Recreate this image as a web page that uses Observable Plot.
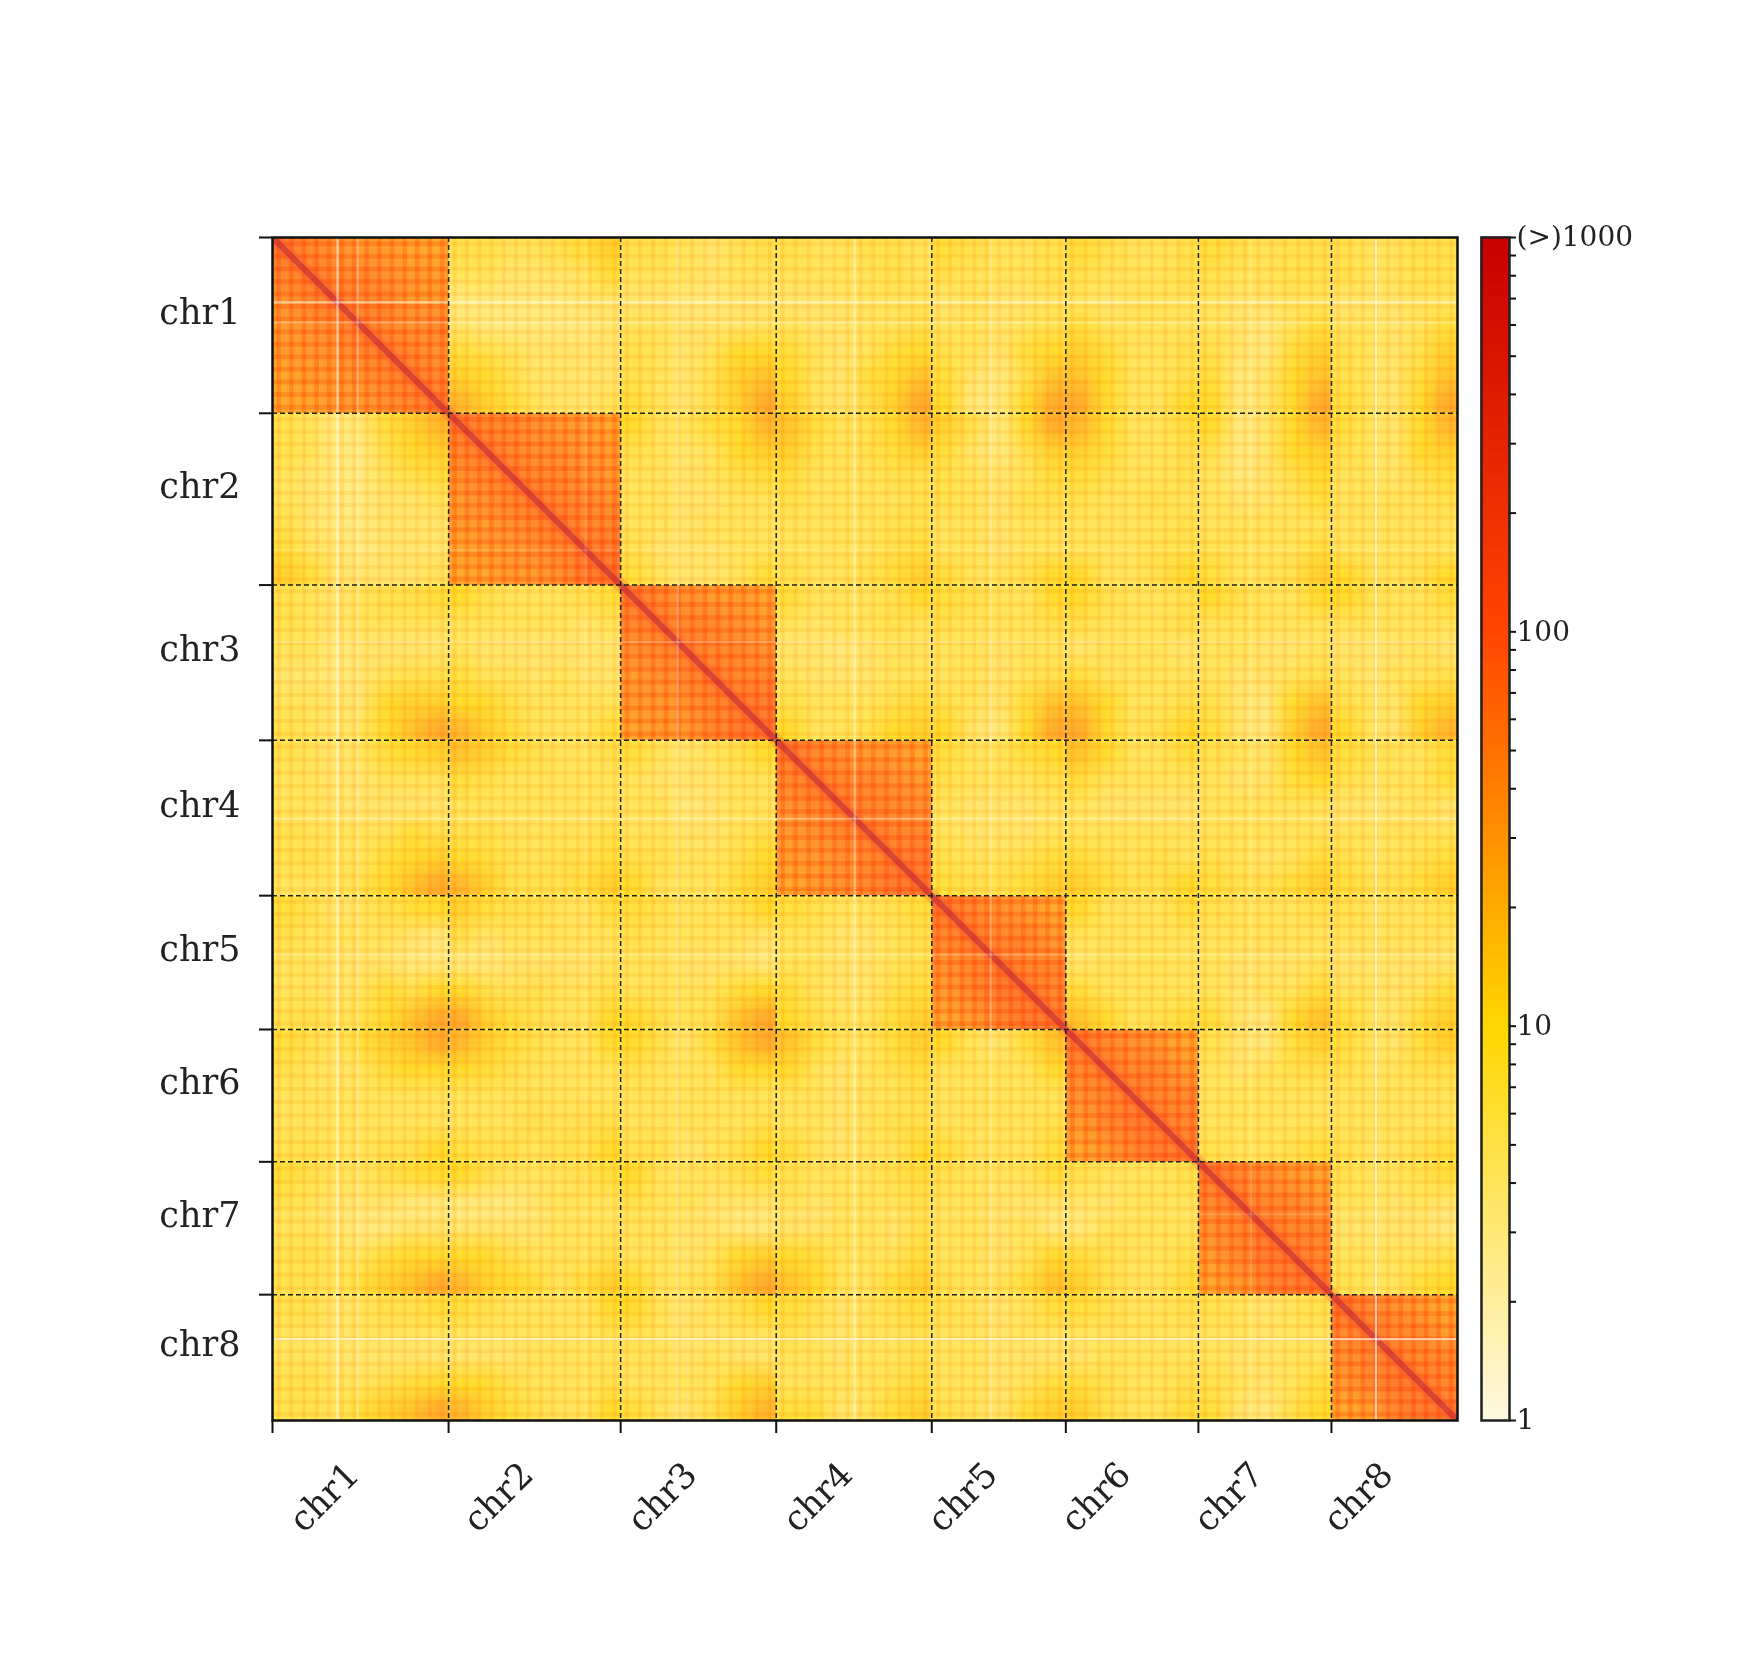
<!DOCTYPE html>
<html>
<head>
<meta charset="utf-8">
<script src="https://cdn.jsdelivr.net/npm/d3@7"></script>
<script src="https://cdn.jsdelivr.net/npm/@observablehq/plot@0.6"></script>
<style>
html,body{margin:0;padding:0;background:#fff;}
#wrap{position:relative;width:1746px;height:1658px;overflow:hidden;}
#wrap svg{position:absolute;left:0;top:0;background:transparent;filter:blur(0.7px);}
</style>
</head>
<body>
<div id="wrap"></div>
<script>
// chromosomes and their lengths along the axes
const chromNames = ["chr1","chr2","chr3","chr4","chr5","chr6","chr7","chr8"];
const chromLengths = [176,172,155.5,155.5,134,132.5,133,126];
const binCounts = [14,14,12,12,11,10,10,10];   // visible contact-map bins per chromosome

// contact level codes -> contacts per bin
const levels = {a:3,b:3.6,c:4.5,d:5.5,e:6.5,f:8.2,g:10,h:12.5,i:16,j:20,k:25,l:28,m:34,n:41,o:50,p:62};

// within-chromosome blocks
const c1c1 = ["ponmmll","opoonmm","nopoomm","mnopono","mmnopon","lmmnopo","llmmnop"];
const c2c2 = ["poonmml","oponnmm","nopoonm","mnopoon","mmnopoo","lmmnopp","llmmnpp"];
const c3c3 = ["ponmml","opoonm","nopoon","mnopoo","mmnopp","lmmopp"];
const c4c4 = ["ponmml","opoonm","nopoon","mnopoo","mmnopp","lmnopp"];
const c5c5 = ["ponml","opoom","nopoo","moppo","lmopp"];
const c6c6 = ["ponml","opoom","nopoo","moppo","lmopp"];
const c7c7 = ["ponml","opoom","nopoo","moppo","lmopp"];
const c8c8 = ["ponml","opoom","nopoo","moppo","lmopp"];

// between-chromosome blocks (upper triangle; the map is symmetric)
const c1c2 = ["eeddefh","ddcccdf","bbbbbcc","cbbbbbc","fedcccc","hgecccc","jhfdccd"];
const c1c3 = ["eedcde","dddcdd","ccbbcc","ddcccd","edcdgg","edcehi","fdcehk"];
const c1c4 = ["eddeed","dddded","cccddd","dccdde","fdcdfg","gdcfgi","hdcehk"];
const c1c5 = ["fedde","eddde","cdccd","ddcde","edcfg","fcbei","gbbgk"];
const c1c6 = ["fedde","eddde","dcddd","fdddd","hfdde","igdde","kgddg"];
const c1c7 = ["fedee","eddee","dccdd","dcbdf","ecbfh","fbcgi","gbcgk"];
const c1c8 = ["eddee","eddee","cccdd","ddcdf","edceh","edcfi","fdcgk"];
const c2c3 = ["gddfgj","edcdgh","ddcdef","ddccdd","ddcddd","ecccdd","fdccdf"];
const c2c4 = ["ifdegj","hedefh","fdddee","edddde","ddddee","ddddef","eddefh"];
const c2c5 = ["hebgk","fcbeh","edcdf","edcee","ddcdd","ddcdd","fddeg"];
const c2c6 = ["jgddf","hfdde","fedde","edded","dddde","dddee","gddeg"];
const c2c7 = ["gbcgj","ebcgh","dbceg","dccdf","ddddd","edddf","fddeh"];
const c2c8 = ["fdcgj","edcgh","ddcef","dddde","ddddd","ddddd","gedeg"];
const c3c4 = ["fdddeg","dcdded","ccbcdd","dcccdd","edddef","gddegh"];
const c3c5 = ["feddg","eddde","ddcdd","ddcde","edcfi","gcbgk"];
const c3c6 = ["gedde","eddde","cdddc","fdddd","igdde","kgdeg"];
const c3c7 = ["geddg","ddddd","ddccd","dccde","ecbgi","fcbhk"];
const c3c8 = ["geddf","ddddd","cccdc","dcdde","edcgh","gdchj"];
const c4c5 = ["fddfg","eddde","dcccd","dcccd","eddef","feefh"];
const c4c6 = ["igddf","fdddd","dcccc","ddddd","feded","hfeeg"];
const c4c7 = ["edcgi","dccfg","ddddd","ddddd","edcdf","feefh"];
const c4c8 = ["feddf","edddf","cccdc","ddddd","eddef","feefh"];
const c5c6 = ["gdddf","ddddd","cdddd","fdddd","igdef"];
const c5c7 = ["eddde","ddddd","dcccd","dcddf","fcbgi"];
const c5c8 = ["eddde","ddddd","ccccc","ddcdf","fdcfh"];
const c6c7 = ["ecbfh","dcdee","ddddd","ddddd","eddef"];
const c6c8 = ["fdcfh","eddee","ddddd","ddddd","eddef"];
const c7c8 = ["eddef","ddcdc","ccccb","dddde","eddfg"];

// low-coverage bins that show as pale lines on both axes, and how pale they are
const paleBins = [65,85,313,405,582,718,978,1103];
const paleStrength = [0.55,0.3,0.15,0.3,0.4,0.25,0.15,0.65];

// colour bar
const barDomain = [1,10,100,1000];
const barColors = ["#fff8e2","#ffd700","#ff4500","#c80000"];
const barMinor = [2,3,4,5,6,7,8,9,20,30,40,50,60,70,80,90,200,300,400,500,600,700,800,900];
const barLabels = {1:"1",10:"10",100:"100",1000:"(>)1000"};

const serif = "'DejaVu Serif', serif";
const total = d3.sum(chromLengths);
const edges = [0, ...d3.cumsum(chromLengths)];
const mids = chromLengths.map((l,i)=>edges[i]+l/2);
const bounds = edges.slice(1,-1);
const tickPos = edges.slice(0,-1);
const bins = binCounts.flatMap((n,i)=>d3.range(n).map(k=>({c:i,p:edges[i]+(k+.5)*chromLengths[i]/n})));

const upper = [
  [c1c1,c1c2,c1c3,c1c4,c1c5,c1c6,c1c7,c1c8],
  [null,c2c2,c2c3,c2c4,c2c5,c2c6,c2c7,c2c8],
  [null,null,c3c3,c3c4,c3c5,c3c6,c3c7,c3c8],
  [null,null,null,c4c4,c4c5,c4c6,c4c7,c4c8],
  [null,null,null,null,c5c5,c5c6,c5c7,c5c8],
  [null,null,null,null,null,c6c6,c6c7,c6c8],
  [null,null,null,null,null,null,c7c7,c7c8],
  [null,null,null,null,null,null,null,c8c8]
];
const colorScale = {type:"log",domain:barDomain,range:barColors,clamp:true};

function block(i,j,values,w,h){
  return Plot.raster(values,{width:w,height:h,x1:edges[j],x2:edges[j+1],y1:edges[i],y2:edges[i+1],fill:d=>d,fillOpacity:0.82});
}
const blockMarks = [];
for(let i=0;i<8;i++)for(let j=i;j<8;j++){
  const rows = upper[i][j];
  const grid = rows.map(r=>[...r].map(c=>levels[c]));
  const h = grid.length, w = grid[0].length;
  blockMarks.push(block(i,j,grid.flat(),w,h));
  if(i!==j){
    const flipped = d3.range(w).flatMap(c=>d3.range(h).map(r=>grid[r][c]));
    blockMarks.push(block(j,i,flipped,h,w));
  }
}

const chart = Plot.plot({
  width:1746,height:1658,
  marginLeft:272,marginTop:237,marginRight:289,marginBottom:238,
  x:{domain:[0,total],axis:null},
  y:{domain:[0,total],range:[237,1420],axis:null},
  color:colorScale,
  marks:[
    ...blockMarks,
    // bin texture across the whole map
    Plot.ruleX(bins,{x:"p",stroke:"#fff1d8",strokeWidth:4,mixBlendMode:"multiply"}),
    Plot.ruleY(bins,{y:"p",stroke:"#fff1d8",strokeWidth:4,mixBlendMode:"multiply"}),
    // stronger bin texture inside each chromosome's own block
    Plot.ruleX(bins,{x:"p",y1:d=>edges[d.c],y2:d=>edges[d.c+1],stroke:"#ffe2cc",strokeWidth:5,mixBlendMode:"multiply"}),
    Plot.ruleY(bins,{y:"p",x1:d=>edges[d.c],x2:d=>edges[d.c+1],stroke:"#ffe2cc",strokeWidth:5,mixBlendMode:"multiply"}),
    // diagonal
    Plot.link(d3.range(8),{x1:i=>edges[i],y1:i=>edges[i],x2:i=>edges[i+1],y2:i=>edges[i+1],stroke:"#ee4b30",strokeWidth:13,strokeOpacity:0.25,clip:"frame"}),
    Plot.link(d3.range(8),{x1:i=>edges[i],y1:i=>edges[i],x2:i=>edges[i+1],y2:i=>edges[i+1],stroke:"#c42c38",strokeWidth:6,strokeOpacity:0.62,clip:"frame"}),
    // pale lines
    Plot.ruleX(paleBins,{x:d=>d,stroke:"#fffbe8",strokeWidth:2.2,strokeOpacity:(d,i)=>paleStrength[i]}),
    Plot.ruleY(paleBins,{y:d=>d,stroke:"#fffbe8",strokeWidth:2.2,strokeOpacity:(d,i)=>paleStrength[i]}),
    // chromosome boundaries
    Plot.ruleX(bounds,{x:d=>d,stroke:"#222",strokeWidth:1.5,strokeDasharray:"5 3"}),
    Plot.ruleY(bounds,{y:d=>d,stroke:"#222",strokeWidth:1.5,strokeDasharray:"5 3"}),
    Plot.frame({stroke:"#111",strokeWidth:2.5}),
    Plot.axisX({ticks:tickPos,tickSize:13,tickFormat:()=>"",strokeWidth:2,stroke:"#111",label:null}),
    Plot.axisY({ticks:tickPos,tickSize:13,tickFormat:()=>"",strokeWidth:2,stroke:"#111",label:null}),
    Plot.text(chromNames,{x:()=>0,y:(d,i)=>mids[i],text:d=>d,textAnchor:"end",dx:-32,dy:-12.5,fontSize:35,fontFamily:serif,fill:"#222"}),
    Plot.text(chromNames,{x:(d,i)=>mids[i],y:()=>total,text:d=>d,rotate:-45,dx:-36,dy:77,fontSize:35,fontFamily:serif,fill:"#222"})
  ]
});

// colour bar ramp steps
const rampEdges = d3.range(257).map(k=>Math.pow(10,3*k/256));
const ramp = d3.range(256).map(k=>({lo:rampEdges[k],hi:rampEdges[k+1]}));
const bar = Plot.plot({
  width:1746,height:1658,
  marginLeft:1481,marginRight:237,marginTop:237,marginBottom:238,
  x:{domain:[0,1],axis:null},
  y:{type:"log",domain:[1,1000],range:[1420,237],axis:null},
  color:colorScale,
  marks:[
    Plot.rect(ramp,{x1:0,x2:1,y1:"lo",y2:"hi",fill:d=>Math.sqrt(d.lo*d.hi),stroke:d=>Math.sqrt(d.lo*d.hi),strokeWidth:1}),
    Plot.frame({stroke:"#222",strokeWidth:2.5}),
    Plot.axisY({anchor:"right",ticks:barMinor,tickSize:6,tickFormat:()=>"",strokeWidth:2,stroke:"#111",label:null}),
    Plot.axisY({anchor:"right",ticks:barDomain,tickSize:6,tickPadding:1,tickFormat:d=>barLabels[d],strokeWidth:2,stroke:"#111",fill:"#222",fontSize:28,fontFamily:serif,label:null})
  ]
});

document.getElementById("wrap").append(chart, bar);
</script>
</body>
</html>
